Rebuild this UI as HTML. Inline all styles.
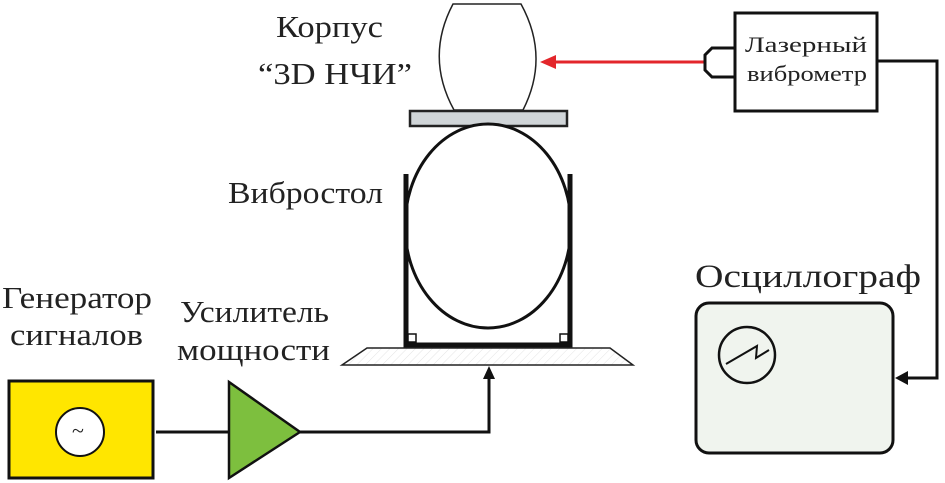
<!DOCTYPE html>
<html><head><meta charset="utf-8"><style>
html,body{margin:0;padding:0;background:#fff}
svg{display:block}
text{font-family:"Liberation Serif","DejaVu Serif",serif;fill:#222}
</style></head><body>
<svg width="945" height="483" viewBox="0 0 945 483" xmlns="http://www.w3.org/2000/svg">
<defs>
<pattern id="h" width="6" height="6" patternUnits="userSpaceOnUse" patternTransform="rotate(45)">
<rect width="6" height="6" fill="#fff"/><line x1="0" y1="0" x2="0" y2="6" stroke="#e4e4e4" stroke-width="1"/></pattern>
</defs>
<text x="276" y="37" font-size="31" textLength="107" lengthAdjust="spacingAndGlyphs">Корпус</text>
<text x="258" y="84" font-size="31" textLength="154" lengthAdjust="spacingAndGlyphs">“3D НЧИ”</text>
<text x="228" y="203" font-size="31" textLength="155" lengthAdjust="spacingAndGlyphs">Вибростол</text>
<text x="695" y="287" font-size="33" textLength="226" lengthAdjust="spacingAndGlyphs">Осциллограф</text>
<text x="2" y="308" font-size="31" textLength="150" lengthAdjust="spacingAndGlyphs">Генератор</text>
<text x="10" y="345" font-size="31" textLength="133" lengthAdjust="spacingAndGlyphs">сигналов</text>
<text x="180" y="322" font-size="31" textLength="149" lengthAdjust="spacingAndGlyphs">Усилитель</text>
<text x="177" y="360" font-size="31" textLength="153" lengthAdjust="spacingAndGlyphs">мощности</text>

<path d="M453,4 L521,4 Q550,57 523,110 L454,110 Q425,57 453,4 Z" fill="#fff" stroke="#222" stroke-width="1.5"/>
<rect x="410" y="111" width="157" height="15" fill="#d0d5d8" stroke="#222" stroke-width="2.5"/>
<ellipse cx="488" cy="226" rx="83" ry="102" fill="#fff" stroke="#111" stroke-width="3"/>
<path d="M406,174 V345 H570 V174" fill="none" stroke="#111" stroke-width="5"/>
<rect x="408" y="334" width="8" height="8" fill="#fff" stroke="#111" stroke-width="1.5"/>
<rect x="560" y="334" width="8" height="8" fill="#fff" stroke="#111" stroke-width="1.5"/>
<polygon points="367,348 610,348 633,365 342,365" fill="url(#h)" stroke="#222" stroke-width="1.5"/>

<rect x="9" y="381" width="144" height="97" fill="#ffe600" stroke="#111" stroke-width="3"/>
<circle cx="80" cy="432" r="24" fill="#fff" stroke="#111" stroke-width="2"/>
<text x="72" y="438" font-size="22">~</text>
<line x1="156" y1="432" x2="229" y2="432" stroke="#111" stroke-width="3"/>
<polygon points="229,382 229,478 300,432" fill="#7dbf3e" stroke="#111" stroke-width="2.5"/>
<polyline points="300,432 489,432 489,378" fill="none" stroke="#111" stroke-width="3"/>
<polygon points="483,379 495,379 489,366" fill="#111"/>

<line x1="706" y1="62" x2="555" y2="62" stroke="#e3262b" stroke-width="3"/>
<polygon points="556,55 556,69 540,62" fill="#e3262b"/>
<path d="M735,48 H712 L705,55 V70 L712,77 H735" fill="#fff" stroke="#111" stroke-width="3"/>
<rect x="735" y="13" width="142" height="98" fill="#fff" stroke="#111" stroke-width="3"/>
<text x="745" y="52" font-size="22" textLength="122" lengthAdjust="spacingAndGlyphs">Лазерный</text>
<text x="747" y="81" font-size="22" textLength="120" lengthAdjust="spacingAndGlyphs">виброметр</text>
<polyline points="877,61 937,61 937,378 905,378" fill="none" stroke="#111" stroke-width="3"/>
<polygon points="908,371 908,385 895,378" fill="#111"/>

<rect x="696" y="303" width="197" height="150" rx="13" fill="#f0f4ee" stroke="#111" stroke-width="3"/>
<circle cx="747" cy="355" r="28" fill="none" stroke="#111" stroke-width="2.5"/>
<polyline points="726,364 757,346 756,358 769,350" fill="none" stroke="#111" stroke-width="2"/>
</svg>
</body></html>
